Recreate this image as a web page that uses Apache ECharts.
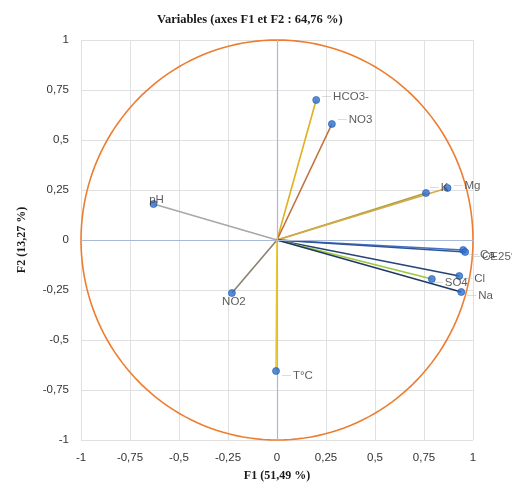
<!DOCTYPE html>
<html><head><meta charset="utf-8">
<script src="https://cdn.jsdelivr.net/npm/echarts@6/dist/echarts.min.js"></script>
<style>html,body{margin:0;padding:0;background:#fff}#c{width:512px;height:491px}</style>
</head><body><div id="c"></div>
<script>
// Data
const variables = ['HCO3-', 'NO3', 'K', 'Mg', 'pH', 'NO2', 'T°C', 'Ca', 'CE25°C', 'Cl', 'SO4', 'Na'];
const f1 = [0.20, 0.28, 0.76, 0.87, -0.63, -0.23, -0.005, 0.95, 0.96, 0.93, 0.79, 0.94];
const f2 = [0.70, 0.58, 0.235, 0.26, 0.18, -0.265, -0.655, -0.05, -0.06, -0.18, -0.195, -0.26];
const tickValues = [-1, -0.75, -0.5, -0.25, 0, 0.25, 0.5, 0.75, 1];

// Styles (kept separate from data)
const lineColors = {
  'HCO3-': '#E0B020', 'NO3': '#C0703A', 'K': '#A8A040', 'Mg': '#D8A848',
  'pH': '#A8A8A8', 'NO2': '#8C8070', 'T°C': '#F0C814', 'Ca': '#4472C4',
  'CE25°C': '#2F5597', 'Cl': '#264478', 'SO4': '#9CC83C', 'Na': '#1F3864'
};
const labelStyle = {
  'HCO3-': {lead: true, offset: [0, -3]},
  'NO3': {lead: true, offset: [0, -4]},
  'K': {lead: true, offset: [-2, -5]},
  'Mg': {lead: true, offset: [0, -2]},
  'pH': {lead: false, position: 'top', offset: [3, 8]},
  'NO2': {lead: false, position: 'bottom', offset: [2, -3]},
  'T°C': {lead: true, offset: [0, 5]},
  'Ca': {lead: true, offset: [0, 5]},
  'CE25°C': {lead: true, offset: [0, 5]},
  'Cl': {lead: true, offset: [-2, 3]},
  'SO4': {lead: true, offset: [-4, 4]},
  'Na': {lead: true, offset: [0, 4]}
};

const fmt = v => String(v).replace('.', ',');

const series = [];
// circle of correlations
series.push({
  type: 'custom', silent: true, z: 1,
  data: [[0, 0]],
  renderItem: function (params, api) {
    const pts = [];
    for (let i = 0; i <= 360; i += 2) {
      const a = i * Math.PI / 180;
      pts.push(api.coord([Math.cos(a), Math.sin(a)]));
    }
    return {type: 'polyline', shape: {points: pts}, style: {stroke: '#ED7D31', lineWidth: 1.6, fill: null}};
  }
});
// zero lines
series.push({
  type: 'line', data: [], silent: true,
  markLine: {silent: true, symbol: 'none', label: {show: false},
    lineStyle: {color: '#A9BAD8', type: 'solid', width: 1.2},
    data: [{xAxis: 0}, {yAxis: 0}]}
});
// vectors
variables.forEach((name, i) => {
  series.push({
    type: 'line', name: name, symbol: 'none', silent: true, z: 3,
    lineStyle: {color: lineColors[name], width: 1.6},
    data: [[0, 0], [f1[i], f2[i]]]
  });
});
// points + labels
series.push({
  type: 'scatter', z: 5, symbolSize: 7,
  itemStyle: {color: '#2E6FD0', borderColor: '#1F5AB0', borderWidth: 0.8},
  data: variables.map((name, i) => {
    const ls = labelStyle[name];
    return {
      name: name, value: [f1[i], f2[i]],
      label: {
        show: true, position: ls.position || 'right', offset: ls.offset,
        distance: 2,
        formatter: ls.lead ? '{d|—}{t|' + name + '}' : '{t|' + name + '}',
        rich: {
          d: {color: '#BDBDBD', fontSize: 9, padding: [0, 2, 0, 0]},
          t: {color: '#333', fontSize: 11.5, fontFamily: 'Liberation Sans'}
        }
      }
    };
  })
});

const chart = echarts.init(document.getElementById('c'));
chart.setOption({
  animation: false,
  backgroundColor: '#fff',
  title: {
    text: 'Variables (axes F1 et F2 : 64,76 %)', left: 152, top: 8,
    textStyle: {fontFamily: 'Liberation Serif', fontWeight: 'bold', fontSize: 12.5, color: '#1a1a1a'}
  },
  grid: {left: 81, right: 39, top: 40, bottom: 51},
  xAxis: {
    type: 'value', min: -1, max: 1, interval: 0.25,
    name: 'F1 (51,49 %)', nameLocation: 'middle', nameGap: 30,
    nameTextStyle: {fontFamily: 'Liberation Serif', fontWeight: 'bold', fontSize: 12, color: '#1a1a1a'},
    axisLine: {show: false, onZero: false}, axisTick: {show: false},
    axisLabel: {margin: 12, color: '#333', fontSize: 11.5, fontFamily: 'Liberation Sans', formatter: fmt},
    splitLine: {show: true, lineStyle: {color: '#E0E0E0', width: 1}}
  },
  yAxis: {
    type: 'value', min: -1, max: 1, interval: 0.25,
    name: 'F2 (13,27 %)', nameLocation: 'middle', nameGap: 53,
    nameTextStyle: {fontFamily: 'Liberation Serif', fontWeight: 'bold', fontSize: 12, color: '#1a1a1a'},
    axisLine: {show: false, onZero: false}, axisTick: {show: false},
    axisLabel: {margin: 12, color: '#333', fontSize: 11.5, fontFamily: 'Liberation Sans', formatter: fmt},
    splitLine: {show: true, lineStyle: {color: '#E0E0E0', width: 1}}
  },
  series: series
});
</script>
</body></html>
